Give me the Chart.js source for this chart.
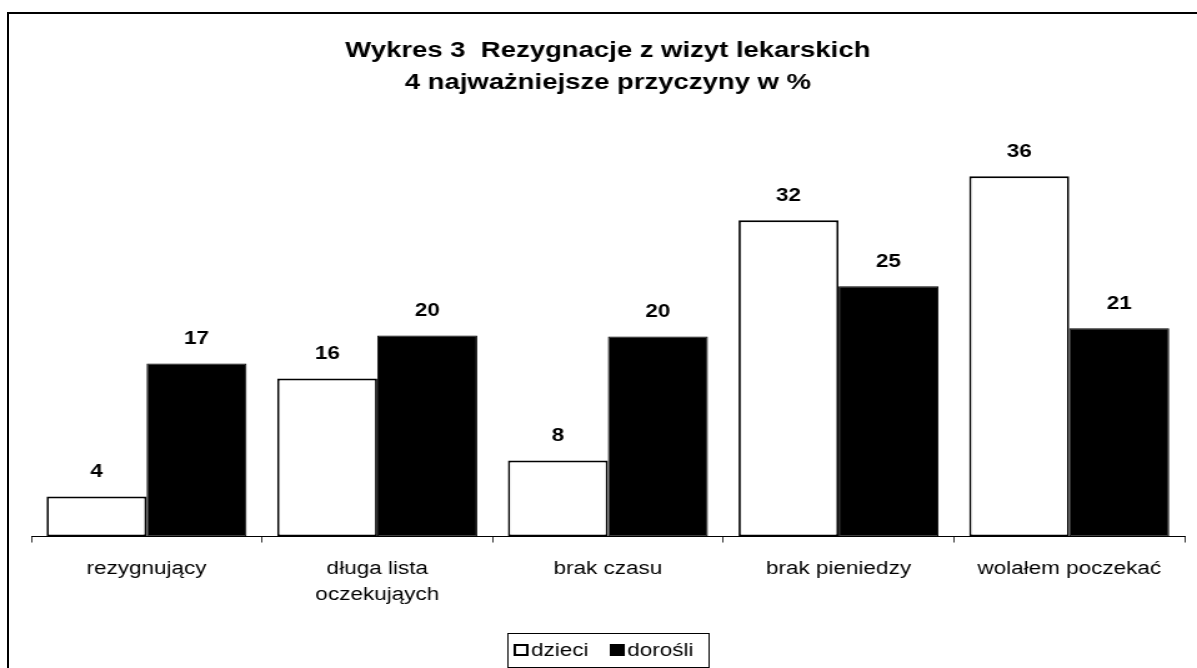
<!DOCTYPE html>
<html>
<head>
<meta charset="utf-8">
<script src="https://cdn.jsdelivr.net/npm/chart.js@4"></script>
<style>
  html, body { margin: 0; padding: 0; background: #fff; overflow: hidden; }
  #wrap { position: relative; width: 1197px; height: 668px; overflow: hidden; }
  #frame { position: absolute; left: 7px; top: 12px; width: 1220px; height: 700px;
           border-left: 2px solid #000; border-top: 2px solid #000; box-sizing: border-box; }
  /* the original picture is drawn wider than tall, so the canvas is stretched sideways */
  #stretch { position: absolute; left: 0; top: 0; transform-origin: 0 0; transform: scaleX(1.2495); }
</style>
</head>
<body>
<div id="wrap">
  <div id="frame"></div>
  <div id="stretch">
    <canvas id="mycanvas" width="958" height="668"></canvas>
  </div>
</div>
<script>
var categories = ['rezygnujący', ['długa lista', 'oczekująych'], 'brak czasu', 'brak pieniedzy', 'wolałem poczekać']
var dzieci = [4, 15.8, 7.6, 31.6, 36]
var dorosli = [17.3, 20.1, 20, 25, 20.8]

var FONT = "'Liberation Sans', Arial, sans-serif"

// value labels above every bar
var valueLabels = {
    id: 'valueLabels',
    afterDatasetsDraw: function(chart) {
        var ctx = chart.ctx
        ctx.save()
        ctx.font = 'bold 18px ' + FONT
        ctx.fillStyle = '#000'
        ctx.textAlign = 'center'
        ctx.textBaseline = 'middle'
        chart.data.datasets.forEach(function(ds, i) {
            chart.getDatasetMeta(i).data.forEach(function(bar, j) {
                ctx.fillText(Math.round(ds.data[j]), bar.x, bar.y - 24)
            })
        })
        ctx.restore()
    }
}

// legend in a frame, drawn from the datasets
var boxLegend = {
    id: 'boxLegend',
    afterDraw: function(chart) {
        var ctx = chart.ctx
        var sets = chart.data.datasets
        var sq = 12, gapTxt = 2, gapItem = 17, padL = 5, padR = 12
        ctx.save()
        ctx.font = '18px ' + FONT
        var total = padL + padR
        sets.forEach(function(ds, i) {
            total += sq + gapTxt + ctx.measureText(ds.label).width
            if (i < sets.length - 1) total += gapItem
        })
        var cx = (chart.chartArea.left + chart.chartArea.right) / 2
        var left = Math.round(cx - total / 2)
        var top = chart.height - 35
        var h = 34
        var cy = top + h / 2
        ctx.strokeStyle = '#000'
        ctx.lineWidth = 1
        ctx.strokeRect(left + 0.5, top + 0.5, Math.round(total), h)
        var x = left + padL
        ctx.textBaseline = 'middle'
        sets.forEach(function(ds) {
            ctx.fillStyle = ds.backgroundColor
            ctx.fillRect(x, cy - sq / 2, sq, sq)
            ctx.lineWidth = 2
            ctx.strokeStyle = ds.borderColor
            ctx.strokeRect(x + 1, cy - sq / 2 + 1, sq - 2, sq - 2)
            x += sq + gapTxt
            ctx.fillStyle = '#000'
            ctx.fillText(ds.label, x, cy + 1)
            x += ctx.measureText(ds.label).width + gapItem
        })
        ctx.restore()
    }
}

var context = document.getElementById('mycanvas').getContext('2d')

var chart = new Chart(context, {
    type: 'bar',
    data: {
        labels: categories,
        datasets: [{
            label: 'dzieci',
            data: dzieci,
            backgroundColor: '#fff',
            borderColor: '#000',
            borderWidth: { top: 2, bottom: 2, left: 1.8, right: 1.8 },
            borderSkipped: false
        }, {
            label: 'dorośli',
            data: dorosli,
            backgroundColor: '#000',
            borderColor: '#000',
            borderWidth: 1,
            borderSkipped: false
        }]
    },
    options: {
        responsive: false,
        animation: false,
        events: [],
        categoryPercentage: 0.867,
        barPercentage: 1.0,
        layout: { padding: { left: 25, right: 10, top: 0, bottom: 45.5 } },
        plugins: {
            title: {
                display: true,
                text: ['Wykres 3  Rezygnacje z wizyt lekarskich', '4 najważniejsze przyczyny w %'],
                color: '#000',
                font: { family: FONT, size: 22, weight: 'bold', lineHeight: 1.46 },
                padding: { top: 35, bottom: 37 }
            },
            legend: { display: false },
            tooltip: { enabled: false }
        },
        scales: {
            x: {
                grid: { display: true, drawOnChartArea: false, offset: true, tickLength: 6, color: '#333' },
                border: { color: '#000', width: 1 },
                ticks: { color: '#000', font: { family: FONT, size: 18, lineHeight: 1.444 }, padding: 14, maxRotation: 0 }
            },
            y: {
                display: false,
                min: 0,
                max: 40
            }
        }
    },
    plugins: [valueLabels, boxLegend]
})
</script>
</body>
</html>
